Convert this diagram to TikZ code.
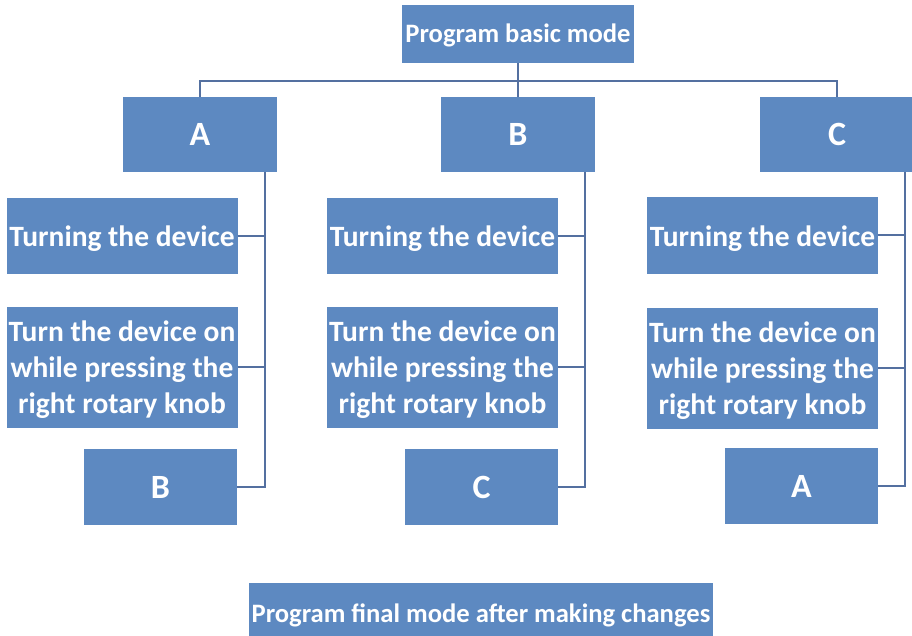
\documentclass[tikz,border=0pt]{standalone}
\usepackage{fontspec}
\setmainfont{Carlito}
\definecolor{boxblue}{RGB}{93,137,193}
\definecolor{linkblue}{RGB}{84,112,160}
\newcommand\lowr[2]{\raisebox{-#1}[\height][\depth]{#2}}
\newcommand\threelines{\lowr{3pt}{\begin{tabular}{@{}c@{}}Turn the device on\\while pressing the\\right rotary knob\end{tabular}}}
\begin{document}
\begin{tikzpicture}[x=1pt,y=-1pt,
  box/.style={fill=boxblue,text=white,inner sep=0pt,align=center,font=\fontsize{29.5}{36}\selectfont\bfseries},
  letter/.style={box,font=\fontsize{34}{40}\selectfont\bfseries},
  title/.style={box,font=\fontsize{26.6}{30}\selectfont\bfseries},
  link/.style={draw=linkblue,line width=2pt}]
\useasboundingbox (0,0) rectangle (912,636);
% top
\node[title,minimum width=232pt,minimum height=58pt] (top) at (518,34) {\lowr{1pt}{Program basic mode}};
\node[letter,minimum width=154pt,minimum height=75pt] (A) at (200,134.5) {A};
\node[letter,minimum width=154pt,minimum height=75pt] (B) at (518,134.5) {B};
\node[letter,minimum width=154pt,minimum height=75pt] (C) at (837,134.5) {C};
% column 1
\node[box,minimum width=231pt,minimum height=76pt] (t1) at (122,236) {\lowr{3pt}{Turning the device}};
\node[box,minimum width=231pt,minimum height=121pt] (p1) at (122,367) {\threelines};
\node[letter,minimum width=153pt,minimum height=76pt] (r1) at (160.5,487) {B};
% column 2
\node[box,minimum width=231pt,minimum height=76pt] (t2) at (442.5,236) {\lowr{3pt}{Turning the device}};
\node[box,minimum width=231pt,minimum height=121pt] (p2) at (442.5,367) {\threelines};
\node[letter,minimum width=153pt,minimum height=76pt] (r2) at (481.5,487) {C};
% column 3
\node[box,minimum width=231pt,minimum height=76pt] (t3) at (762.5,235.5) {\lowr{3pt}{Turning the device}};
\node[box,minimum width=231pt,minimum height=121pt] (p3) at (762.5,368) {\threelines};
\node[letter,minimum width=153pt,minimum height=76pt] (r3) at (801.5,486) {A};
% bottom
\node[title,minimum width=464pt,minimum height=56pt] (fin) at (481,611) {\lowr{4pt}{Program final mode after making changes}};
% tree connectors
\coordinate (bus) at (0,81);
\draw[link] (A.north) -- (A.north |- bus) -- (C.north |- bus) -- (C.north);
\draw[link] (top.south) -- (B.north);
% column connectors
\foreach \c/\t/\p/\r/\x in {A/t1/p1/r1/265, B/t2/p2/r2/585, C/t3/p3/r3/905}{
  \draw[link] (\c.south -| \x,0) -- (\r.east -| \x,0) -- (\r.east);
  \draw[link] (\t.east) -- (\t.east -| \x,0);
  \draw[link] (\p.east) -- (\p.east -| \x,0);
}
\end{tikzpicture}
\end{document}
